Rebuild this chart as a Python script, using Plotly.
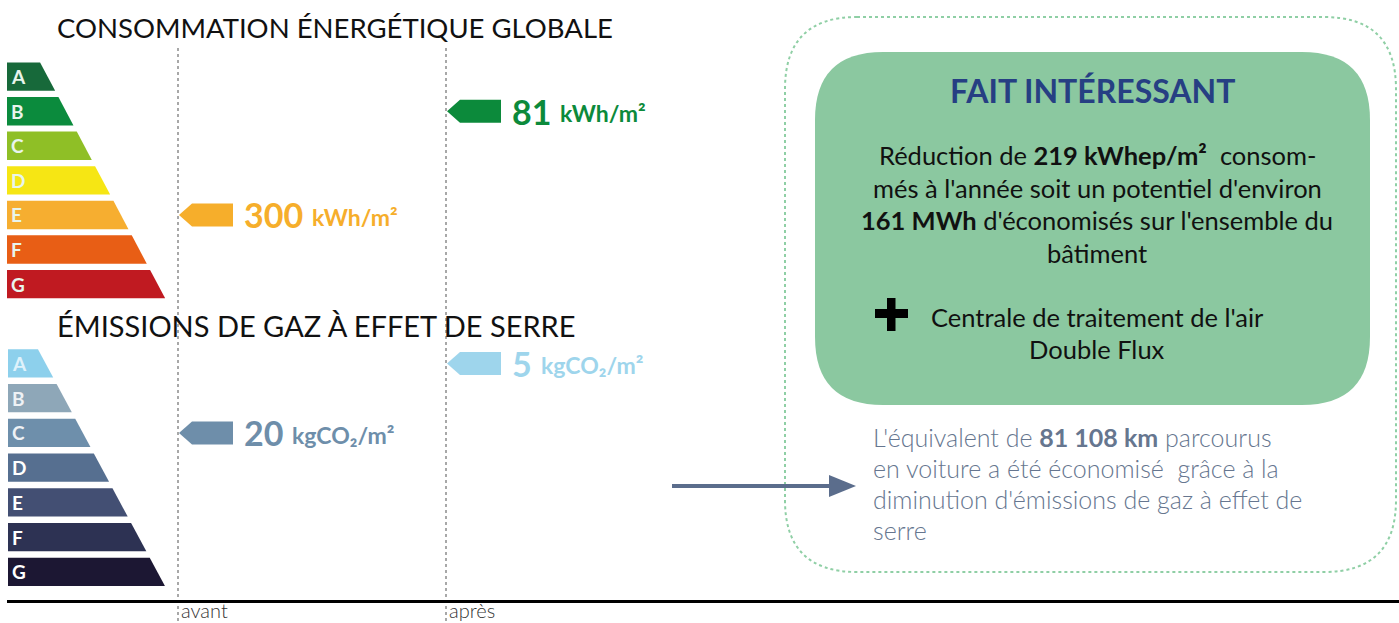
import plotly.graph_objects as go

# ---------------- data ----------------
classes = ["A", "B", "C", "D", "E", "F", "G"]
energy_colors = ["#17693a", "#0b8b3d", "#8fbf26", "#f6e614", "#f6ae30", "#e85e15", "#c01a21"]
ghg_colors = ["#8dd0ec", "#8ea7b8", "#6e8fab", "#566f90", "#434f73", "#2d3253", "#1c1733"]
letter_colors_ghg = ["#dff2fb", "#eef2f5", "#eef2f5", "#ffffff", "#ffffff", "#ffffff", "#ffffff"]

periods = ["avant", "après"]
energy_values = [300, 81]
energy_classes = ["E", "B"]
energy_arrow_colors = ["#f6ae2b", "#0c8a3b"]
ghg_values = [20, 5]
ghg_classes = ["C", "A"]
ghg_arrow_colors = ["#6e8eaa", "#9ed5ec"]
energy_unit = "kWh/m²"
ghg_unit = "kgCO₂/m²"

title_energy = "CONSOMMATION ÉNERGÉTIQUE GLOBALE"
title_ghg = "ÉMISSIONS DE GAZ À EFFET DE SERRE"
fact_title = "FAIT INTÉRESSANT"
fact_lines = [
    "Réduction de <b>219 kWhep/m²</b>  consom-",
    "més à l'année soit un potentiel d'environ",
    "<b>161 MWh</b> d'économisés sur l'ensemble du",
    "bâtiment",
]
extra_lines = ["Centrale de traitement de l'air", "Double Flux"]
equiv_lines = [
    "L'équivalent de <b>81 108 km</b> parcourus",
    "en voiture a été économisé  grâce à la",
    "diminution d'émissions de gaz à effet de",
    "serre",
]

# ---------------- layout geometry ----------------
W, H = 1399, 623
FONT = "Lato"
period_x = {"avant": 178, "après": 446}

# energy scale: row centre pixel = E0 + EP*i ; ghg: G0 + GP*i
E0, EP = 76.6, 34.59
G0, GP = 363.4, 34.75


def yrange(c0, pitch):
    return [(H - c0) / pitch, -c0 / pitch]


fig = go.Figure()


def rating_scale(colors, c0, pitch, yref, x_left, xr0, y_r0, slope, letter_cols):
    hh = 14.2 / pitch
    for i, (cls, col) in enumerate(zip(classes, colors)):
        yt, yb = i - hh, i + hh
        pt, pb = c0 + pitch * yt, c0 + pitch * yb
        xt = xr0 + slope * (pt - y_r0)
        xb = xr0 + slope * (pb - y_r0)
        fig.add_trace(go.Scatter(
            x=[x_left, xt, xb, x_left, x_left], y=[yt, yt, yb, yb, yt],
            fill="toself", fillcolor=col, mode="lines", line=dict(width=0, color=col),
            yaxis=yref, hoverinfo="skip", showlegend=False))
        fig.add_annotation(x=x_left + 2, y=i, xref="x", yref=yref, text="<b>%s</b>" % cls,
                           showarrow=False, xanchor="left", yanchor="middle",
                           font=dict(family=FONT, size=19, color=letter_cols[i]))


rating_scale(energy_colors, E0, EP, "y", 7, 42, 66, 0.53, ["#e8f5ec"] * 7)
rating_scale(ghg_colors, G0, GP, "y2", 8, 40, 353, 0.536, letter_colors_ghg)


def value_arrows(values, cls_list, colors, unit, yref, pitch):
    hh = 11.5 / pitch
    for p, v, c, col in zip(periods, values, cls_list, colors):
        xi = period_x[p]
        yi = classes.index(c)
        xs = [xi + 1, xi + 14, xi + 55, xi + 55, xi + 14, xi + 1]
        ys = [yi, yi - hh, yi - hh, yi + hh, yi + hh, yi]
        fig.add_trace(go.Scatter(x=xs, y=ys, fill="toself", fillcolor=col, mode="lines",
                                 line=dict(width=0, color=col), yaxis=yref,
                                 hoverinfo="skip", showlegend=False))
        num = "%d" % v
        fig.add_annotation(
            x=xi + 64, y=yi, xref="x", yref=yref, showarrow=False,
            xanchor="left", yanchor="middle", text="<b>%s</b>" % num,
            font=dict(family=FONT, size=34, color=col))
        fig.add_annotation(
            x=xi + 64 + 19.6 * len(num) + 9, y=yi, xref="x", yref=yref, showarrow=False,
            xanchor="left", yanchor="middle", yshift=-2, text="<b>%s</b>" % unit,
            font=dict(family=FONT, size=23, color=col))


value_arrows(energy_values, energy_classes, energy_arrow_colors, energy_unit, "y", EP)
value_arrows(ghg_values, ghg_classes, ghg_arrow_colors, ghg_unit, "y2", GP)

# ---------------- shapes ----------------
shapes = []
for p in periods:
    shapes.append(dict(type="line", xref="x", yref="y3", x0=period_x[p], x1=period_x[p],
                       y0=48, y1=H, line=dict(color="#a8a8a8", width=2, dash="dot"), layer="below"))
shapes.append(dict(type="line", xref="x", yref="y3", x0=7, x1=W, y0=601.5, y1=601.5,
                   line=dict(color="#000000", width=3)))


def rrect(x0, y0, x1, y1, r):
    return ("M %g,%g L %g,%g Q %g,%g %g,%g L %g,%g Q %g,%g %g,%g L %g,%g Q %g,%g %g,%g "
            "L %g,%g Q %g,%g %g,%g Z" % (
                x0 + r, y0, x1 - r, y0, x1, y0, x1, y0 + r,
                x1, y1 - r, x1, y1, x1 - r, y1,
                x0 + r, y1, x0, y1, x0, y1 - r,
                x0, y0 + r, x0, y0, x0 + r, y0))


shapes.append(dict(type="path", xref="x", yref="y3", path=rrect(785, 17, 1396, 572, 72),
                   line=dict(color="#8fcfa5", width=2, dash="dot"), fillcolor="rgba(0,0,0,0)"))
shapes.append(dict(type="path", xref="x", yref="y3", path=rrect(815, 52, 1370, 405, 68),
                   line=dict(width=0), fillcolor="#8bc8a0"))
# plus sign
shapes.append(dict(type="rect", xref="x", yref="y3", x0=875, x1=908, y0=309, y1=318,
                   fillcolor="#000000", line=dict(width=0)))
shapes.append(dict(type="rect", xref="x", yref="y3", x0=887, x1=895.5, y0=298, y1=331,
                   fillcolor="#000000", line=dict(width=0)))
# arrow to the equivalent text
shapes.append(dict(type="line", xref="x", yref="y3", x0=672, x1=832, y0=486, y1=486,
                   line=dict(color="#5b6d8c", width=4)))
shapes.append(dict(type="path", xref="x", yref="y3", path="M 829,475 L 856,486 L 829,497 Z",
                   fillcolor="#5b6d8c", line=dict(width=0)))

# ---------------- texts ----------------
ann = []


def txt(x, y, s, size, color="#111111", anchor="left", weight=None, yanchor="middle"):
    f = dict(family=FONT, size=size, color=color)
    if weight:
        f["weight"] = weight
    ann.append(dict(x=x, y=y, xref="x", yref="y3", text=s, showarrow=False,
                    xanchor=anchor, yanchor=yanchor, font=f, borderpad=0))


txt(56, 27, title_energy, 27.5)
txt(56, 325, title_ghg, 29)
for p in periods:
    txt(period_x[p] + 2, H, p, 20, "#333333", weight=300, yanchor="bottom")

txt(1092, 90, "<b>%s</b>" % fact_title, 32, "#263f83", anchor="center")
for k, line in enumerate(fact_lines):
    txt(1097, 155 + 32.5 * k, line, 25.5, "#111111", anchor="center")
for k, line in enumerate(extra_lines):
    txt(1097, 317 + 32 * k, line, 25.5, "#111111", anchor="center")
for k, line in enumerate(equiv_lines):
    txt(872, 437 + 31 * k, line, 25, "#66768f", weight=300)

fig.update_layout(
    width=W, height=H, margin=dict(l=0, r=0, t=0, b=0),
    paper_bgcolor="white", plot_bgcolor="white", showlegend=False,
    xaxis=dict(range=[0, W], visible=False, fixedrange=True),
    yaxis=dict(range=yrange(E0, EP), visible=False, fixedrange=True),
    yaxis2=dict(range=yrange(G0, GP), visible=False, overlaying="y", fixedrange=True),
    yaxis3=dict(range=[H, 0], visible=False, overlaying="y", fixedrange=True),
    shapes=shapes,
)
for a in ann:
    fig.add_annotation(**a)

fig.write_html("out.html", config={"displayModeBar": False},
               post_script="document.body.style.margin='0px';document.body.style.overflow='hidden';")
